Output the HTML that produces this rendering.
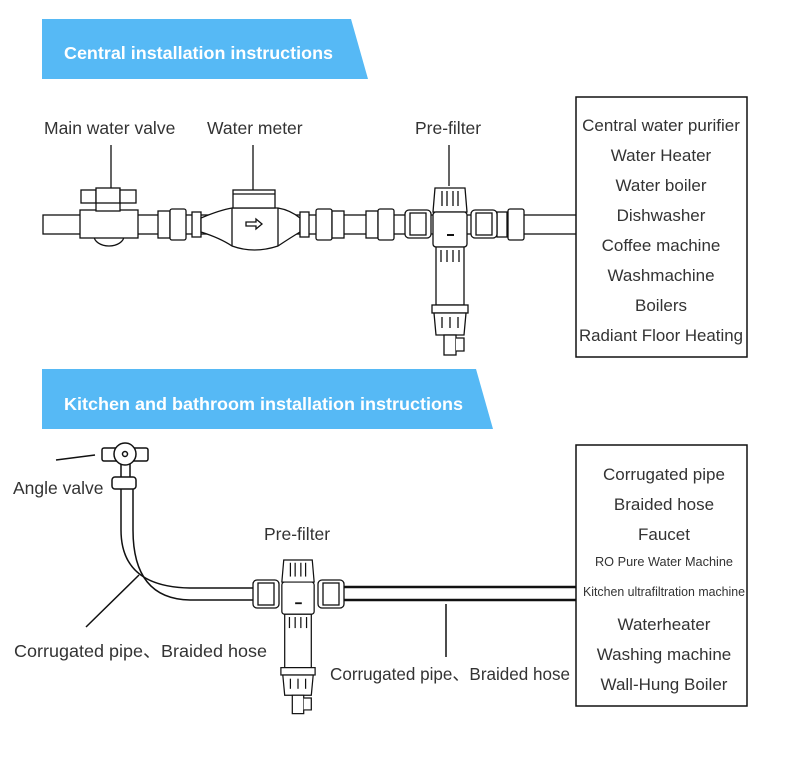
<!DOCTYPE html>
<html><head><meta charset="utf-8"><style>
html,body{margin:0;padding:0;background:#fff;width:800px;height:766px;overflow:hidden}
text{font-family:"Liberation Sans","Noto Sans CJK SC",sans-serif;fill:#333}
</style></head><body>
<svg width="800" height="766" viewBox="0 0 800 766" xmlns="http://www.w3.org/2000/svg">
<defs>
<g id="filt" fill="#fff" stroke="#111" stroke-width="1.3">
  <path d="M-15,0 L15,0 L17,24 L-17,24 Z"/>
  <line x1="-8" y1="3" x2="-8" y2="18"/><line x1="-3" y1="3" x2="-3" y2="18"/><line x1="3" y1="3" x2="3" y2="18"/><line x1="8" y1="3" x2="8" y2="18"/>
  <rect x="-17" y="24" width="34" height="35" rx="3"/>
  <path d="M-14,59 L14,59 L14,117 L-14,117 Z"/>
  <line x1="-9" y1="62" x2="-9" y2="74"/><line x1="-3" y1="62" x2="-3" y2="74"/><line x1="3" y1="62" x2="3" y2="74"/><line x1="9" y1="62" x2="9" y2="74"/>
  <rect x="-18" y="117" width="36" height="8"/>
  <path d="M-16,125 L16,125 L14,147 L-14,147 Z"/>
  <line x1="-8" y1="129" x2="-8" y2="140"/><line x1="0" y1="129" x2="0" y2="140"/><line x1="8" y1="129" x2="8" y2="140"/>
  <rect x="-6" y="147" width="12" height="20"/>
  <path d="M6,150 L14,150 L14,163 L6,163"/>
  <line x1="-3" y1="47" x2="4" y2="47" stroke-width="2"/>
</g>
<g id="nut" fill="#fff" stroke="#111" stroke-width="1.3">
  <rect x="0" y="0" width="26" height="28" rx="4"/>
  <rect x="5" y="3" width="16" height="22"/>
</g>
</defs>

<polygon points="42,19 351,19 368,79 42,79" fill="#56b9f5"/>
<text x="64" y="59" font-size="17.5" font-weight="bold" style="fill:#fff" textLength="269" lengthAdjust="spacingAndGlyphs">Central installation instructions</text>
<polygon points="42,369 476,369 493,429 42,429" fill="#56b9f5"/>
<text x="64" y="410" font-size="17.5" font-weight="bold" style="fill:#fff" textLength="399" lengthAdjust="spacingAndGlyphs">Kitchen and bathroom installation instructions</text>

<text x="44" y="134" font-size="17.5">Main water valve</text>
<text x="207" y="134" font-size="17.5">Water meter</text>
<text x="415" y="134" font-size="17.5">Pre-filter</text>
<g stroke="#111" stroke-width="1.3">
<line x1="111" y1="145" x2="111" y2="190"/>
<line x1="253" y1="145" x2="253" y2="190"/>
<line x1="449" y1="145" x2="449" y2="186"/>
</g>

<g fill="#fff" stroke="#111" stroke-width="1.3">
<rect x="43" y="215" width="534" height="19"/>
<path d="M94,236 A15,10 0 0 0 124,236"/>
<rect x="80" y="210" width="58" height="28"/>
<rect x="96" y="198" width="24" height="13"/>
<rect x="81" y="190" width="15" height="13"/><rect x="96" y="188" width="24" height="15"/><rect x="120" y="190" width="16" height="13"/>
<rect x="158" y="211" width="12" height="27"/><rect x="170" y="209" width="16" height="31" rx="2"/><rect x="192" y="212" width="9" height="25"/>
<path d="M201,218 Q220,210 232,208 L278,208 Q290,210 300,218 L300,232 Q290,238 278,246 Q254,254 232,246 Q220,238 201,232 Z"/>
<line x1="232" y1="208" x2="232" y2="246"/><line x1="278" y1="208" x2="278" y2="246"/>
<rect x="233" y="190" width="42" height="18"/><line x1="233" y1="194" x2="275" y2="194"/>
<path d="M246,222 L256,222 L256,219 L262,224 L256,229 L256,226 L246,226 Z"/>
<rect x="300" y="212" width="9" height="25"/><rect x="316" y="209" width="16" height="31" rx="2"/><rect x="332" y="211" width="12" height="27"/>
<rect x="366" y="211" width="12" height="27"/><rect x="378" y="209" width="16" height="31" rx="2"/>
<rect x="497" y="212" width="10" height="25"/><rect x="508" y="209" width="16" height="31" rx="2"/>
</g>
<use href="#nut" x="405" y="210"/>
<use href="#nut" x="471" y="210"/>
<use href="#filt" x="450" y="188"/>

<rect x="576" y="97" width="171" height="260" fill="#fff" stroke="#111" stroke-width="1.5"/>
<line x1="560" y1="215" x2="576" y2="215" stroke="#111"/>
<line x1="560" y1="234" x2="576" y2="234" stroke="#111"/>
<g font-size="17" text-anchor="middle">
<text x="661" y="131">Central water purifier</text>
<text x="661" y="161">Water Heater</text>
<text x="661" y="191">Water boiler</text>
<text x="661" y="221">Dishwasher</text>
<text x="661" y="251">Coffee machine</text>
<text x="661" y="281">Washmachine</text>
<text x="661" y="311">Boilers</text>
<text x="661" y="341" textLength="164" lengthAdjust="spacingAndGlyphs">Radiant Floor Heating</text>
</g>

<g fill="none" stroke="#111" stroke-width="1.5">
<path d="M121,488 L121,530 Q121,587 190,588 L258,588"/>
<path d="M133,488 L133,530 Q133,599 190,600 L258,600"/>
<line x1="56" y1="460" x2="95" y2="455"/>
<line x1="139" y1="575" x2="86" y2="627"/>
<line x1="446" y1="604" x2="446" y2="657"/>
</g>
<g fill="#fff" stroke="#111" stroke-width="1.5">
<rect x="121" y="462" width="9" height="16"/>
<rect x="102" y="448" width="46" height="13" rx="2"/>
<circle cx="125" cy="454" r="11"/>
<circle cx="125" cy="454" r="2.5"/>
<rect x="112" y="477" width="24" height="12" rx="3"/>
</g>
<rect x="340" y="587" width="237" height="13" fill="#fff" stroke="#111" stroke-width="2.5"/>
<use href="#nut" x="253" y="580"/>
<use href="#nut" x="318" y="580"/>
<g transform="translate(298,560) scale(0.95,0.92)"><use href="#filt"/></g>

<text x="13" y="494" font-size="17.5">Angle valve</text>
<text x="264" y="540" font-size="17.5">Pre-filter</text>
<text x="14" y="657" font-size="17.5" textLength="253" lengthAdjust="spacingAndGlyphs">Corrugated pipe、Braided hose</text>
<text x="330" y="680" font-size="17.5" textLength="240" lengthAdjust="spacingAndGlyphs">Corrugated pipe、Braided hose</text>

<rect x="576" y="445" width="171" height="261" fill="#fff" stroke="#111" stroke-width="1.5"/>
<g text-anchor="middle">
<text x="664" y="480" font-size="17">Corrugated pipe</text>
<text x="664" y="510" font-size="17">Braided hose</text>
<text x="664" y="540" font-size="17">Faucet</text>
<text x="664" y="566" font-size="13" textLength="138" lengthAdjust="spacingAndGlyphs">RO Pure Water Machine</text>
<text x="664" y="596" font-size="13" textLength="162" lengthAdjust="spacingAndGlyphs">Kitchen ultrafiltration machine</text>
<text x="664" y="630" font-size="17">Waterheater</text>
<text x="664" y="660" font-size="17">Washing machine</text>
<text x="664" y="690" font-size="17">Wall-Hung Boiler</text>
</g>
</svg>
</body></html>
